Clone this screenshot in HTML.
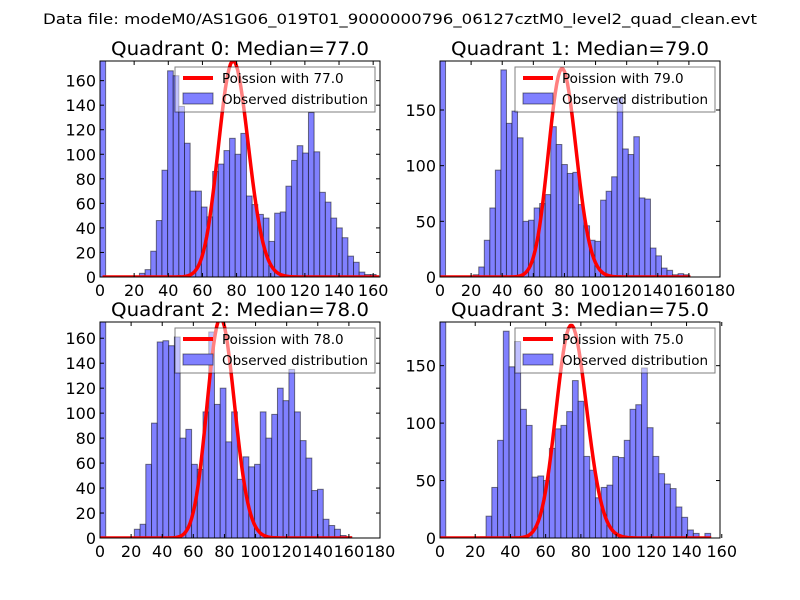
<!DOCTYPE html>
<html><head><meta charset="utf-8">
<style>
body{margin:0;background:#fff;}
svg{display:block;font-family:"DejaVu Sans","Liberation Sans",sans-serif;}
</style></head>
<body>
<svg id="fig" width="800" height="600">
<rect width="800" height="600" fill="#fff"/>
<text x="400" y="24" text-anchor="middle" font-size="14.5" textLength="714" lengthAdjust="spacingAndGlyphs">Data file: modeM0/AS1G06_019T01_9000000796_06127cztM0_level2_quad_clean.evt</text>
</svg>
<script>
// ---- data ----
const medians = [77.0, 79.0, 78.0, 75.0];
const binWidths = [3.3, 3.56, 3.68, 3.27];
const firstBin = [400, 400, 400, 400];
const startBins = [7, 6, 6, 7];
const counts0 = [3,6,21,46,87,168,164,139,109,70,70,57,49,86,92,103,113,100,117,66,59,51,48,29,52,53,74,95,107,101,134,102,69,61,48,40,32,17,12,4,2,2];
const counts1 = [2,9,33,62,96,186,138,149,125,50,51,62,66,74,135,119,101,93,94,65,46,33,32,69,77,90,161,115,110,126,71,70,26,19,8,6,2,3,2];
const counts2 = [7,11,59,92,157,158,154,161,80,87,59,55,101,165,107,120,77,101,47,65,57,59,101,80,99,120,110,135,101,78,64,38,39,15,10,7,2,1];
const counts3 = [1,19,44,85,180,149,171,112,98,53,54,50,78,95,98,110,137,119,71,59,35,44,46,71,70,85,112,116,148,96,71,56,47,43,27,18,7,4,0,4];
const countsAll = [counts0, counts1, counts2, counts3];
const curvePeaks = [176, 187, 176, 185];
const curveShift = [1.5, 0, 0, 0];
const yMaxes = [176, 194, 173, 188];
const xMaxes = [164, 180, 180, 159];
const yTickSteps = [20, 50, 20, 50];
const xTickMax = [160, 180, 180, 160];

const panels = [
  {l:100, t:61, w:280, h:216},
  {l:440, t:61, w:280, h:216},
  {l:100, t:322, w:280, h:216},
  {l:440, t:322, w:280, h:216}
];
const NS = "http://www.w3.org/2000/svg";
const svg = document.getElementById('fig');
function mk(tag, attrs, parent){
  const e = document.createElementNS(NS, tag);
  for (const k in attrs) e.setAttribute(k, attrs[k]);
  (parent||svg).appendChild(e);
  return e;
}
function logPmf(k, lam){
  let lf = 0; for (let i=2;i<=k;i++) lf += Math.log(i);
  return k*Math.log(lam) - lam - lf;
}
panels.forEach((p, qi) => {
  const g = mk('g', {});
  
  
  const xS = v => p.l + v / xMaxes[qi] * p.w;
  const yS = v => p.t + p.h - v / yMaxes[qi] * p.h;
  const clipId = 'clip' + qi;
  const cp = mk('clipPath', {id: clipId}, g);
  mk('rect', {x:p.l, y:p.t, width:p.w, height:p.h}, cp);
  const plot = mk('g', {'clip-path':'url(#' + clipId + ')'}, g);
  const bw = binWidths[qi];
  const heights = [firstBin[qi]];
  for (let i=1;i<startBins[qi];i++) heights.push(0);
  countsAll[qi].forEach(c => heights.push(c));
  heights.forEach((c, i) => {
    if (c <= 0) return;
    const x0 = xS(i*bw), x1 = xS((i+1)*bw);
    const r = mk('rect', {x:x0, y:yS(c), width:x1-x0, height:yS(0)-yS(c), fill:'#8080ff', stroke:'rgba(0,0,0,0.5)', 'stroke-width':1}, plot);
    
    
  });
  const lam = medians[qi];
  const mode = Math.floor(lam);
  const ref = logPmf(mode, lam);
  let d = '';
  const xEnd = Math.ceil(heights.length*bw);
  for (let k=0;k<=xEnd;k++){
    const v = curvePeaks[qi]*Math.exp(logPmf(k, lam) - ref);
    d += (k? 'L':'M') + xS(k + curveShift[qi]).toFixed(2) + ',' + yS(v).toFixed(2);
  }
  const line = mk('path', {d:d, fill:'none', stroke:'#ff0000', 'stroke-width':3.5, 'stroke-linejoin':'round'}, plot);
  
  
  mk('rect', {x:p.l, y:p.t, width:p.w, height:p.h, fill:'none', stroke:'#000', 'stroke-width':1}, g);
  for (let v=0; v<=yMaxes[qi]; v+=yTickSteps[qi]){
    const y = yS(v);
    mk('line', {x1:p.l, x2:p.l+4, y1:y, y2:y, stroke:'#000'}, g);
    mk('line', {x1:p.l+p.w, x2:p.l+p.w-4, y1:y, y2:y, stroke:'#000'}, g);
    const t = mk('text', {x:p.l-4, y:y+6, 'text-anchor':'end', 'font-size':16}, g);
    t.textContent = v;
    
    
  }
  for (let v=0; v<=xTickMax[qi]; v+=20){
    const x = xS(v);
    mk('line', {x1:x, x2:x, y1:p.t+p.h, y2:p.t+p.h-4, stroke:'#000'}, g);
    mk('line', {x1:x, x2:x, y1:p.t, y2:p.t+4, stroke:'#000'}, g);
    const t = mk('text', {x:x, y:p.t+p.h+19, 'text-anchor':'middle', 'font-size':16}, g);
    t.textContent = v;
    
    
  }
  const tt = mk('text', {x:p.l+p.w/2, y:p.t-6, 'text-anchor':'middle', 'font-size':18.5, textLength:258, lengthAdjust:'spacingAndGlyphs'}, g);
  tt.textContent = 'Quadrant ' + qi + ': Median=' + medians[qi].toFixed(1);
  
  
  const lg = mk('g', {}, g);
  
  
  const lx = p.l + 75, ly = p.t + 6;
  mk('rect', {x:lx, y:ly, width:200, height:45, fill:'rgba(255,255,255,0.5)', stroke:'rgba(0,0,0,0.5)'}, lg);
  mk('line', {x1:lx+8, x2:lx+38, y1:ly+11, y2:ly+11, stroke:'#ff0000', 'stroke-width':4}, lg);
  mk('rect', {x:lx+8, y:ly+26, width:30, height:11, fill:'#8080ff', stroke:'rgba(0,0,0,0.5)'}, lg);
  const t1 = mk('text', {x:lx+47, y:ly+16, 'font-size':13.5}, lg);
  t1.textContent = 'Poission with ' + medians[qi].toFixed(1);
  const t2 = mk('text', {x:lx+47, y:ly+37, 'font-size':13.5, textLength:146, lengthAdjust:'spacingAndGlyphs'}, lg);
  t2.textContent = 'Observed distribution';
});
</script>
</body></html>
